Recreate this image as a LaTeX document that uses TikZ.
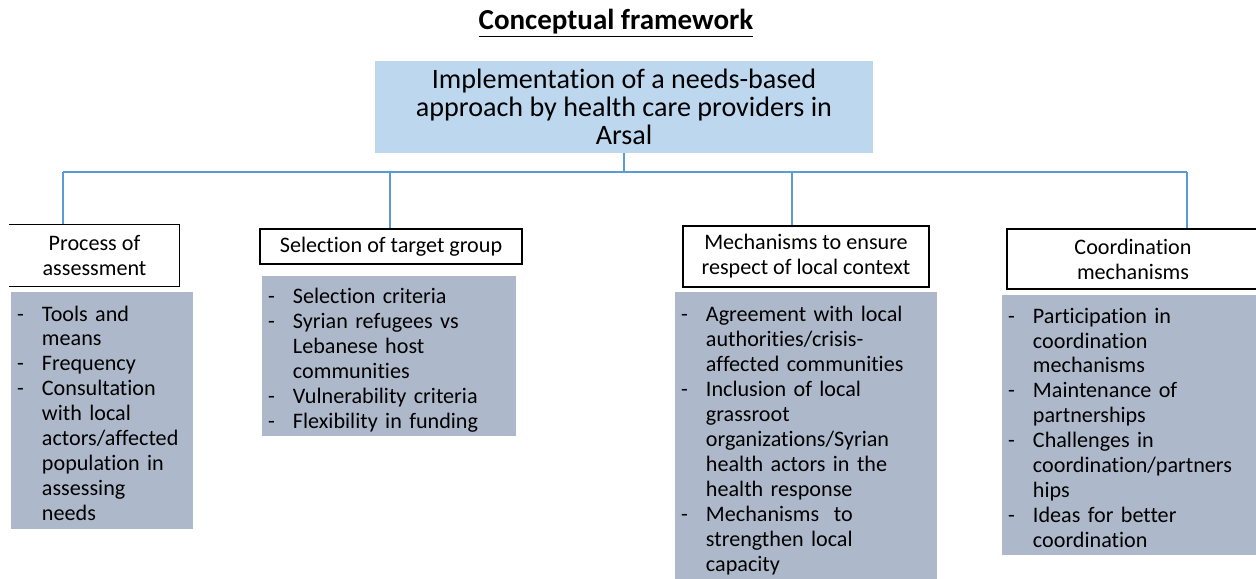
\documentclass[tikz,border=0pt]{standalone}
\usepackage{fontspec}
\setmainfont{Carlito}[Ligatures=NoCommon]
\definecolor{goalblue}{HTML}{BDD7EE}
\definecolor{listgray}{HTML}{ADB9CA}
\definecolor{linkblue}{HTML}{5B9BD5}
% dash + text rows inside the grey boxes
\newenvironment{dashlist}{\begin{tabular}{@{}p{14.2pt}@{}l@{}}\rule{0pt}{16pt}\ignorespaces}{\end{tabular}}
\tikzset{
  bodyfont/.style={font=\fontsize{12.6}{14.2}\selectfont},
  goalbox/.style={fill=goalblue, align=center, inner sep=0pt,
    font=\fontsize{16}{15.9}\selectfont},
  headbox/.style={bodyfont, draw=black, line width=0.7pt, align=center, inner sep=0pt},
  listbox/.style={bodyfont, fill=listgray, align=left, inner xsep=0.12cm, inner ysep=0pt},
  link/.style={draw=linkblue, line width=0.6pt}
}
\begin{document}
\begin{tikzpicture}[x=0.02cm, y=-0.02cm]
  \useasboundingbox (0,0) rectangle (1256,578);

  \node (title) at (616,23) {\bfseries\fontsize{16.5}{20}\selectfont\underline{Conceptual framework}};
  \node[goalbox, minimum width=9.96cm, minimum height=1.84cm] (goal) at (624,107)
    {Implementation of a needs-based\\approach by health care providers in\\Arsal};

  % the four themes
  \node[headbox, draw=none, minimum width=3.38cm, minimum height=1.22cm] (head1) at (94.5,255.5)
    {Process of\\assessment};
  \draw[line width=0.7pt] (head1.north west) -- (head1.north east) -- (head1.south east) -- (head1.south west);
  \node[headbox, minimum width=5.24cm, minimum height=0.70cm] (head2) at (391,246.5)
    {Selection of target group};
  \node[headbox, minimum width=4.92cm, minimum height=1.22cm] (head3) at (806,256.5)
    {Mechanisms to ensure\\respect of local context};
  \node[headbox, minimum width=5.04cm, minimum height=1.20cm] (head4) at (1133,259)
    {Coordination\\mechanisms};

  % sub-topics under each theme
  \node[listbox, text width=3.40cm, minimum height=4.74cm] (list1) at (102,410.5) {\begin{dashlist}
    - & Tools and\\ & means\\
    - & Frequency\\
    - & Consultation\\ & with local\\ & actors/affected\\ & population in\\ & assessing\\ & needs
  \end{dashlist}};
  \node[listbox, text width=4.84cm, minimum height=3.20cm] (list2) at (389,356) {\begin{dashlist}
    - & Selection criteria\\
    - & Syrian refugees vs\\ & Lebanese host\\ & communities\\
    - & Vulnerability criteria\\
    - & Flexibility in funding
  \end{dashlist}};
  \node[listbox, text width=5.00cm, minimum height=5.76cm] (list3) at (806,436) {\begin{dashlist}
    - & Agreement with local\\ & authorities/crisis-\\ & affected communities\\
    - & Inclusion of local\\ & grassroot\\ & organizations/Syrian\\ & health actors in the\\ & health response\\
    - & Mechanisms~ to\\ & strengthen local\\ & capacity
  \end{dashlist}};
  \node[listbox, text width=4.92cm, minimum height=5.20cm] (list4) at (1131,425) {\begin{dashlist}
    - & Participation in\\ & coordination\\ & mechanisms\\
    - & Maintenance of\\ & partnerships\\
    - & Challenges in\\ & coordination/partners\\ & hips\\
    - & Ideas for better\\ & coordination
  \end{dashlist}};

  % tree lines
  \coordinate (b1) at (63,172);
  \coordinate (b2) at (390,172);
  \coordinate (b3) at (792,172);
  \coordinate (b4) at (1187,172);
  \draw[link] (goal.south) -- (goal.south |- b1);
  \draw[link] (b1) -- (b4);
  \draw[link] (b1) -- (b1 |- head1.north);
  \draw[link] (b2) -- (b2 |- head2.north);
  \draw[link] (b3) -- (b3 |- head3.north);
  \draw[link] (b4) -- (b4 |- head4.north);
\end{tikzpicture}
\end{document}
